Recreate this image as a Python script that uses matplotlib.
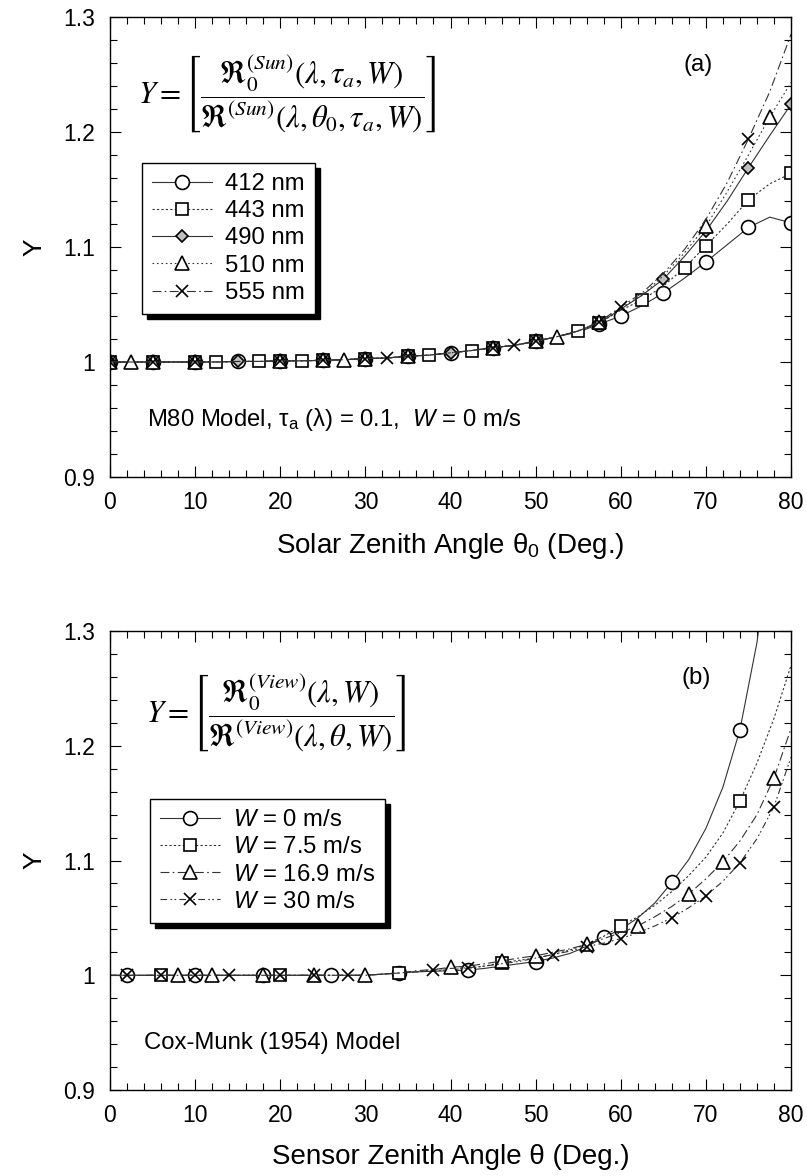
import numpy as np
import matplotlib
matplotlib.use("Agg")
import matplotlib.pyplot as plt
from matplotlib.patches import Rectangle
from matplotlib.transforms import IdentityTransform

plt.rcParams.update({
    "font.family": "Liberation Sans",
    "mathtext.fontset": "custom",
    "mathtext.rm": "Liberation Sans",
    "mathtext.it": "Liberation Sans:italic",
    "xtick.direction": "in", "ytick.direction": "in",
    "xtick.top": True, "ytick.right": True,
})

# ---- (a) solar zenith angle dependence, M80 aerosol -----------------------
theta0 = [0, 2.5, 5, 7.5, 10, 12.5, 15, 17.5, 20, 22.5, 25, 27.5, 30, 32.5,
          35, 37.5, 40, 42.5, 45, 47.5, 50, 52.5, 55, 57.5, 60, 62.5, 65,
          67.5, 70, 72.5, 75, 77.5, 80]
y412 = [1.000, 1.000, 1.000, 1.000, 1.000, 1.000, 1.0005, 1.0005, 1.001, 1.001,
        1.0015, 1.002, 1.003, 1.0035, 1.005, 1.006, 1.008, 1.010, 1.0125, 1.0145,
        1.018, 1.022, 1.026, 1.033, 1.040, 1.049, 1.060, 1.073, 1.087, 1.102,
        1.117, 1.126, 1.121]
y443 = [1.000, 1.000, 1.000, 1.000, 1.000, 1.000, 1.0005, 1.0005, 1.001, 1.001,
        1.0015, 1.002, 1.003, 1.0035, 1.005, 1.006, 1.008, 1.010, 1.0125, 1.0145,
        1.018, 1.022, 1.027, 1.034, 1.045, 1.054, 1.066, 1.082, 1.101, 1.120,
        1.141, 1.155, 1.164]
y490 = [1.000, 1.000, 1.000, 1.000, 1.000, 1.000, 1.0005, 1.0005, 1.001, 1.001,
        1.0015, 1.002, 1.003, 1.0035, 1.005, 1.006, 1.008, 1.010, 1.0125, 1.0145,
        1.018, 1.022, 1.027, 1.034, 1.046, 1.058, 1.072, 1.092, 1.114, 1.140,
        1.169, 1.197, 1.224]
y510 = [1.000, 1.000, 1.000, 1.000, 1.000, 1.000, 1.0005, 1.0005, 1.001, 1.001,
        1.0015, 1.002, 1.003, 1.0035, 1.005, 1.006, 1.008, 1.010, 1.0125, 1.0145,
        1.018, 1.022, 1.027, 1.035, 1.047, 1.058, 1.075, 1.095, 1.118, 1.148,
        1.180, 1.213, 1.243]
y555 = [1.000, 1.000, 1.000, 1.000, 1.000, 1.000, 1.0005, 1.0005, 1.001, 1.001,
        1.0015, 1.002, 1.003, 1.0035, 1.005, 1.006, 1.008, 1.010, 1.0125, 1.0145,
        1.018, 1.022, 1.027, 1.035, 1.048, 1.060, 1.077, 1.098, 1.124, 1.156,
        1.194, 1.235, 1.285]
wl_labels = ["412 nm", "443 nm", "490 nm", "510 nm", "555 nm"]
# indices of the points that carry a symbol
mk412 = [0, 2, 4, 6, 8, 10, 12, 14, 16, 18, 20, 23, 24, 26, 28, 30, 32]
mk443 = [0, 2, 4, 5, 7, 8, 9, 10, 12, 14, 15, 17, 18, 20, 22, 23, 25, 27, 28, 30, 32]
mk490 = [0, 2, 4, 6, 8, 10, 12, 14, 16, 18, 20, 23, 26, 28, 30, 32]
mk510 = [0, 1, 2, 4, 8, 10, 11, 12, 14, 18, 20, 21, 23, 28, 31]
mk555 = [0, 2, 4, 8, 10, 12, 13, 14, 18, 19, 20, 23, 24, 30]

# ---- (b) sensor zenith angle dependence, Cox-Munk surface -----------------
theta = [0, 2, 4, 6, 8, 10, 12, 14, 16, 18, 20, 22, 24, 26, 28, 30, 32, 34,
         36, 38, 40, 42, 44, 46, 48, 50, 52, 54, 56, 58, 60, 62, 64, 66, 68,
         70, 72, 74, 76, 78, 80]
w00 = [1.000, 1.000, 1.000, 1.000, 1.000, 1.000, 1.000, 1.000, 1.000, 1.000,
       1.000, 1.000, 1.000, 1.000, 1.000, 1.000, 1.001, 1.002, 1.003, 1.0035,
       1.004, 1.0045, 1.006, 1.008, 1.010, 1.012, 1.015, 1.019, 1.025, 1.033,
       1.040, 1.050, 1.063, 1.081, 1.101, 1.128, 1.164, 1.214, 1.290, 1.410,
       np.nan]
w75 = [1.000, 1.000, 1.000, 1.000, 1.000, 1.000, 1.000, 1.000, 1.000, 1.000,
       1.000, 1.000, 1.000, 1.000, 1.000, 1.000, 1.001, 1.002, 1.003, 1.004,
       1.005, 1.006, 1.008, 1.011, 1.013, 1.015, 1.018, 1.022, 1.027, 1.034,
       1.043, 1.051, 1.061, 1.073, 1.087, 1.103, 1.124, 1.152, 1.185, 1.224,
       1.270]
w169 = [1.000, 1.000, 1.000, 1.000, 1.000, 1.000, 1.000, 1.000, 1.000, 1.000,
        1.000, 1.000, 1.000, 1.000, 1.000, 1.000, 1.001, 1.002, 1.004, 1.005,
        1.007, 1.008, 1.010, 1.0125, 1.015, 1.017, 1.020, 1.023, 1.027, 1.032,
        1.037, 1.043, 1.051, 1.060, 1.071, 1.084, 1.099, 1.117, 1.140, 1.172,
        1.215]
w30 = [1.000, 1.000, 1.000, 1.000, 1.000, 1.000, 1.000, 1.000, 1.000, 1.000,
       1.000, 1.000, 1.000, 1.000, 1.000, 1.000, 1.001, 1.002, 1.003, 1.005,
       1.006, 1.0065, 1.008, 1.010, 1.012, 1.015, 1.018, 1.021, 1.025, 1.028,
       1.032, 1.037, 1.043, 1.050, 1.059, 1.069, 1.082, 1.098, 1.119, 1.147,
       1.190]
wind_labels = ["0 m/s", "7.5 m/s", "16.9 m/s", "30 m/s"]
mk00 = [1, 5, 9, 13, 17, 21, 25, 29, 33, 37]
mk75 = [3, 10, 17, 23, 30, 37]
mk169 = [4, 6, 9, 12, 15, 20, 23, 25, 28, 31, 34, 36, 39]
mk30 = [1, 3, 5, 7, 10, 12, 14, 19, 21, 26, 28, 30, 33, 35, 37, 39]

LC = "0.2"
FS = 16.5      # tick labels
TS = 17.2      # legend and in-panel text


def style_axes(ax, xlabel):
    ax.set_xlim(0, 80)
    ax.set_ylim(0.9, 1.3)
    ax.set_xticks(np.arange(0, 81, 10))
    ax.set_xticks(np.arange(0, 81, 2), minor=True)
    ax.set_yticks([0.9, 1.0, 1.1, 1.2, 1.3])
    ax.set_yticklabels(["0.9", "1", "1.1", "1.2", "1.3"])
    ax.set_yticks(np.arange(0.9, 1.3001, 0.02), minor=True)
    ax.tick_params(which="major", length=8, width=0.8, labelsize=FS)
    ax.tick_params(axis="x", which="major", pad=10)
    ax.tick_params(axis="y", which="major", pad=11)
    ax.tick_params(which="minor", length=5, width=0.8)
    for s in ax.spines.values():
        s.set_linewidth(1.0)
    ax.set_xlabel(xlabel, fontsize=20, labelpad=12)
    ax.set_ylabel("Y", fontsize=19, labelpad=12)


def add_shadow(fig, ax, leg, off=5):
    fig.canvas.draw()
    bb = leg.get_window_extent()
    r = Rectangle((bb.x0 + off, bb.y0 - off), bb.width, bb.height,
                  transform=IdentityTransform(), facecolor="black",
                  edgecolor="black", zorder=4.9, clip_on=False)
    ax.add_artist(r)


fig = plt.figure(figsize=(8.07, 11.76), dpi=100)
ax1 = fig.add_axes([0.1363, 0.5944, 0.8439, 0.3911])
ax2 = fig.add_axes([0.1363, 0.0731, 0.8439, 0.3903])

mkw = dict(mec="black", mfc="white", mew=1.2, color=LC, lw=0.8)
leg_kw = dict(loc="upper left", borderaxespad=0, fontsize=TS, numpoints=1,
              handlelength=2.5, handletextpad=0.55, labelspacing=0.22,
              borderpad=0.42, fancybox=False, edgecolor="black", framealpha=1)

ax1.plot(theta0, y412, ls="-", marker="o", ms=10, markevery=mk412, **mkw)
ax1.plot(theta0, y443, ls=(0, (2, 2)), marker="s", ms=8, markevery=mk443, **mkw)
ax1.plot(theta0, y490, ls="-", marker="D", ms=6, markevery=mk490,
         **{**mkw, "mfc": "0.75"})
ax1.plot(theta0, y510, ls=(0, (1.5, 2.5)), marker="^", ms=10, markevery=mk510, **mkw)
ax1.plot(theta0, y555, ls=(0, (8, 3, 1.5, 3)), marker="x", ms=8, markevery=mk555, **mkw)
style_axes(ax1, "Solar Zenith Angle θ$_0$ (Deg.)")

leg1 = ax1.legend(wl_labels, bbox_to_anchor=(0.047, 0.683), **leg_kw)
leg1.get_frame().set_linewidth(1.0)

ax1.text(0.041, 0.833,
         r"$Y=\left[\dfrac{\Re_0^{(Sun)}\left(\lambda,\tau_a,W\right)}"
         r"{\Re^{(Sun)}\left(\lambda,\theta_0,\tau_a,W\right)}\right]$",
         transform=ax1.transAxes, fontsize=22, va="center", ha="left",
         math_fontfamily="stix")
ax1.text(0.863, 0.896, "(a)", transform=ax1.transAxes, fontsize=TS,
         ha="center", va="center")
ax1.text(0.054, 0.124, r"M80 Model, τ$_\mathregular{a}$ (λ) = 0.1,  $W$ = 0 m/s",
         transform=ax1.transAxes, fontsize=TS, ha="left", va="center")

ax2.plot(theta, w00, ls="-", marker="o", ms=10, markevery=mk00, **mkw)
ax2.plot(theta, w75, ls=(0, (2, 2)), marker="s", ms=8, markevery=mk75, **mkw)
ax2.plot(theta, w169, ls=(0, (8, 3, 1.5, 3)), marker="^", ms=10, markevery=mk169, **mkw)
ax2.plot(theta, w30, ls=(0, (6, 3, 1.5, 2, 1.5, 3)), marker="x", ms=8,
         markevery=mk30, **mkw)
style_axes(ax2, "Sensor Zenith Angle θ (Deg.)")

leg2 = ax2.legend([f"$W$ = {w}" for w in wind_labels],
                  bbox_to_anchor=(0.059, 0.634), **leg_kw)
leg2.get_frame().set_linewidth(1.0)

ax2.text(0.053, 0.823,
         r"$Y=\left[\dfrac{\Re_0^{(View)}\left(\lambda,W\right)}"
         r"{\Re^{(View)}\left(\lambda,\theta,W\right)}\right]$",
         transform=ax2.transAxes, fontsize=22, va="center", ha="left",
         math_fontfamily="stix")
ax2.text(0.861, 0.898, "(b)", transform=ax2.transAxes, fontsize=TS,
         ha="center", va="center")
ax2.text(0.05, 0.102, "Cox-Munk (1954) Model", transform=ax2.transAxes,
         fontsize=TS, ha="left", va="center")

add_shadow(fig, ax1, leg1)
add_shadow(fig, ax2, leg2)

fig.savefig("out.png", dpi=100)
